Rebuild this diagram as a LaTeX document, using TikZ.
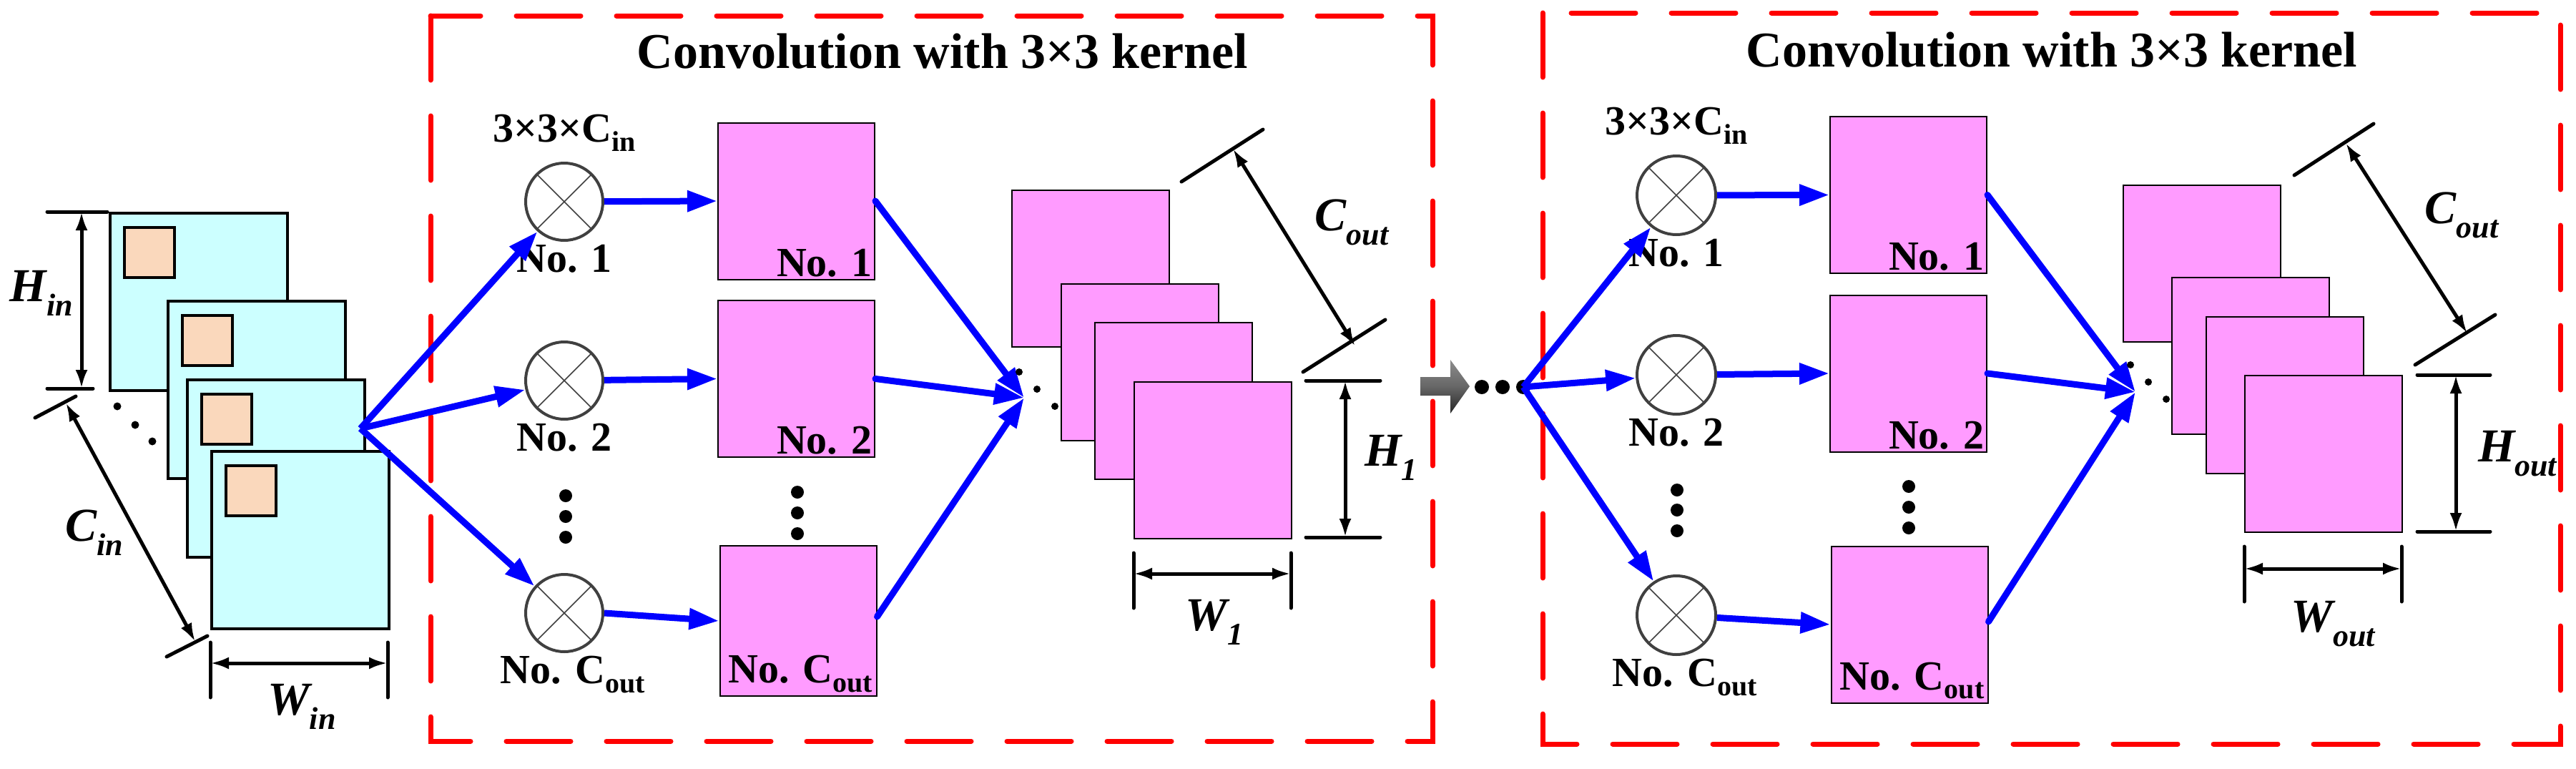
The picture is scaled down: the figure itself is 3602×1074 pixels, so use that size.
\documentclass[tikz,border=0pt]{standalone}
\usepackage{fontspec}
\setmainfont{Liberation Serif}
\usetikzlibrary{arrows.meta,calc}
\definecolor{bluec}{RGB}{0,0,255}
\definecolor{pinkc}{RGB}{255,155,255}
\definecolor{cyanc}{RGB}{204,255,255}
\definecolor{orangec}{RGB}{250,216,188}
\definecolor{redc}{RGB}{255,0,0}
\newcommand{\dimlab}[2]{{\bfseries\itshape #1\raisebox{-0.3em}{\fontsize{44}{44}\selectfont #2}}}
\newcommand{\subt}[1]{\raisebox{-0.22em}{\fontsize{40}{40}\selectfont #1}}
\begin{document}
\begin{tikzpicture}[x=1pt,y=-1pt,
  redbox/.style={draw=redc, line width=7, dash pattern=on 90pt off 50pt, line cap=round},
  barrow/.style={draw=bluec, line width=9, -{Triangle[length=42pt,width=28pt]}},
  dimline/.style={line width=5, line cap=round},
  dimarrow/.style={line width=5, {Latex[length=26pt,width=17pt]}-{Latex[length=26pt,width=17pt]}},
  circ/.style={circle, draw=black!75, line width=4, minimum size=108, inner sep=0, fill=white,
    path picture={\draw[line width=1.5] (path picture bounding box.north west) -- (path picture bounding box.south east)
      (path picture bounding box.north east) -- (path picture bounding box.south west);}},
  pink/.style={draw, line width=2, fill=pinkc, minimum width=219, minimum height=219, inner sep=0},
  cmap/.style={draw, line width=4, fill=cyanc, minimum width=248, minimum height=248, inner sep=0},
  omap/.style={draw, line width=4, fill=orangec, minimum width=70, minimum height=70, inner sep=0},
  txt/.style={font=\fontsize{58}{60}\selectfont\bfseries, inner sep=4},
  ttl/.style={font=\fontsize{70}{72}\selectfont\bfseries},
  dlab/.style={font=\fontsize{66}{68}\selectfont},
  dot/.style={circle, fill, inner sep=0, minimum size=#1},
]
\useasboundingbox (0,0) rectangle (3602,1074);
% ---------- input stack ----------
\foreach \i/\x/\y in {1/152/296, 2/233/419, 3/260/529, 4/294/629}{
  \node[cmap, anchor=north west] (m\i) at (\x,\y) {};
  \node[omap, anchor=north west] (q\i) at ($(m\i.north west)+(20,20)$) {};
}
\node[dot=11] (ld1) at (164,568) {};
\node[dot=11] (ld2) at (189,594) {};
\node[dot=11] (ld3) at (213,617) {};
% Hin
\coordinate (ha1) at (66,296); \coordinate (ha2) at (150,296);
\coordinate (hb1) at (66,543); \coordinate (hb2) at (130,543);
\draw[dimline] (ha1) -- (ha2); \draw[dimline] (hb1) -- (hb2);
\coordinate (hx1) at (114,296); \coordinate (hx2) at (114,543);
\draw[dimarrow] (hx1) -- (hx2);
\node[dlab] (hin) at (58,410) {\dimlab{H}{in}};
% Cin
\coordinate (ca1) at (49,584); \coordinate (ca2) at (106,554);
\coordinate (cb1) at (233,918); \coordinate (cb2) at (290,889);
\draw[dimline] (ca1) -- (ca2); \draw[dimline] (cb1) -- (cb2);
\coordinate (cx1) at (92,563); \coordinate (cx2) at (273,897);
\draw[dimarrow] (cx1) -- (cx2);
\node[dlab] (cin) at (132,745) {\dimlab{C}{in}};
% Win
\coordinate (wa1) at (294,898); \coordinate (wa2) at (294,975);
\coordinate (wb1) at (542,898); \coordinate (wb2) at (542,975);
\draw[dimline] (wa1) -- (wa2); \draw[dimline] (wb1) -- (wb2);
\coordinate (wx1) at (294,927); \coordinate (wx2) at (542,927);
\draw[dimarrow] (wx1) -- (wx2);
\node[dlab] (win) at (422,988) {\dimlab{W}{in}};
% ---------- box 1 ----------
\draw[redbox] (602,22) rectangle (2003,1036);
\node[ttl] (t1) at (1318,72) {Convolution with 3×3 kernel};
\coordinate (o1) at (504,599);
\node[circ] (c11) at (789,282) {};
\node[circ] (c12) at (789,532) {};
\node[circ] (c1c) at (789,857) {};
\node[txt] (k1) at (789,186) {3×3×C\subt{in}};
\node[txt, anchor=north] (n11) at (c11.south) {No. 1};
\node[txt, anchor=north] (n12) at (c12.south) {No. 2};
\node[txt, anchor=north] (n1c) at ([xshift=12]c1c.south) {No. C\subt{out}};
\foreach \j/\y in {a/693, b/722, c/751}{\node[dot=18] (cd1\j) at (791,\y) {};}
\node[pink] (p11) at (1113.5,281) {};
\node[pink] (p12) at (1113.5,529.5) {};
\node[pink, minimum height=210] (p1c) at (1116,868) {};
\node[txt, anchor=south east] (l11) at (p11.south east) {No. 1};
\node[txt, anchor=south east] (l12) at (p12.south east) {No. 2};
\node[txt, anchor=south east, inner sep=6] (l1c) at (p1c.south east) {No. C\subt{out}};
\foreach \j/\y in {a/688, b/717, c/746}{\node[dot=18] (pd1\j) at (1115,\y) {};}
\draw[barrow] (o1) -- (c11);
\draw[barrow] (o1) -- (c12);
\draw[barrow] (o1) -- (c1c);
\draw[barrow] (c11) -- (p11.west);
\draw[barrow] (c12) -- (p12.west);
\draw[barrow] (c1c.east) -- (p1c.west);
\coordinate (v1) at (1432,556);
\draw[barrow, line cap=round] (p11.east) -- (v1);
\draw[barrow, line cap=round] (p12.east) -- (v1);
\draw[barrow, line cap=round] ([yshift=6]p1c.east) -- (v1);
\node[dot=10] (sd1a) at (1425,520) {};
\node[dot=10] (sd1b) at (1450,544) {};
\node[dot=10] (sd1c) at (1475,568) {};
\foreach \i/\x/\y in {1/1414/265, 2/1483/396, 3/1530/450, 4/1585/533}{
  \node[pink, anchor=north west, minimum width=220] (s1\i) at (\x,\y) {};
}
% Cout 1
\coordinate (oa1) at (1652,254); \coordinate (oa2) at (1766,181);
\coordinate (ob1) at (1822,520); \coordinate (ob2) at (1937,447);
\draw[dimline] (oa1) -- (oa2); \draw[dimline] (ob1) -- (ob2);
\coordinate (ox1) at (1724,208); \coordinate (ox2) at (1895,484);
\draw[dimarrow] (ox1) -- (ox2);
\node[dlab] (cout1) at (1890,311) {\dimlab{C}{out}};
% H1
\coordinate (h1a1) at (1826,532); \coordinate (h1a2) at (1930,532);
\coordinate (h1b1) at (1826,751); \coordinate (h1b2) at (1930,751);
\draw[dimline] (h1a1) -- (h1a2); \draw[dimline] (h1b1) -- (h1b2);
\coordinate (h1x1) at (1881,532); \coordinate (h1x2) at (1881,751);
\draw[dimarrow] (h1x1) -- (h1x2);
\node[dlab] (h1) at (1945,640) {\dimlab{H}{1}};
% W1
\coordinate (w1a1) at (1585,773); \coordinate (w1a2) at (1585,850);
\coordinate (w1b1) at (1805,773); \coordinate (w1b2) at (1805,850);
\draw[dimline] (w1a1) -- (w1a2); \draw[dimline] (w1b1) -- (w1b2);
\coordinate (w1x1) at (1585,802); \coordinate (w1x2) at (1805,802);
\draw[dimarrow] (w1x1) -- (w1x2);
\node[dlab] (w1) at (1698,870) {\dimlab{W}{1}};
% ---------- between ----------
\shade[top color=black!45, bottom color=black!85, middle color=black!60]
  (1986,527) -- (2028,527) -- (2028,503) -- (2055,540) -- (2028,578) -- (2028,553) -- (1986,553) -- cycle;
\node[dot=20] (bd1) at (2072,541) {};
\node[dot=20] (bd2) at (2101,541) {};
\node[dot=20] (o2) at (2130,541) {};
% ---------- box 2 ----------
\draw[redbox] (2157,18) rectangle (3580,1040);
\node[ttl] (t2) at (2869,70) {Convolution with 3×3 kernel};
\node[circ, minimum size=110] (c21) at (2344,273) {};
\node[circ, minimum size=110] (c22) at (2344,524) {};
\node[circ, minimum size=110] (c2c) at (2344,860) {};
\node[txt] (k2) at (2344,176) {3×3×C\subt{in}};
\node[txt, anchor=north] (n21) at (c21.south) {No. 1};
\node[txt, anchor=north] (n22) at (c22.south) {No. 2};
\node[txt, anchor=north] (n2c) at ([xshift=12]c2c.south) {No. C\subt{out}};
\foreach \j/\y in {a/685, b/713, c/742}{\node[dot=18] (cd2\j) at (2345,\y) {};}
\node[pink] (p21) at (2668.5,272.5) {};
\node[pink] (p22) at (2668.5,522) {};
\node[pink] (p2c) at (2670,873) {};
\node[txt, anchor=south east] (l21) at (p21.south east) {No. 1};
\node[txt, anchor=south east] (l22) at (p22.south east) {No. 2};
\node[txt, anchor=south east, inner sep=6] (l2c) at (p2c.south east) {No. C\subt{out}};
\foreach \j/\y in {a/680, b/709, c/738}{\node[dot=18] (pd2\j) at (2669,\y) {};}
\draw[barrow] (o2.center) -- (c21);
\draw[barrow] (o2.center) -- (c22);
\draw[barrow] (o2.center) -- (c2c);
\draw[barrow] (c21) -- (p21.west);
\draw[barrow] (c22) -- (p22.west);
\draw[barrow] (c2c) -- (p2c.west);
\coordinate (v2) at (2986,548);
\draw[barrow, line cap=round] (p21.east) -- (v2);
\draw[barrow, line cap=round] (p22.east) -- (v2);
\draw[barrow, line cap=round] ([yshift=4]p2c.east) -- (v2);
\node[dot=10] (sd2a) at (2979,510) {};
\node[dot=10] (sd2b) at (3004,534) {};
\node[dot=10] (sd2c) at (3029,558) {};
\foreach \i/\x/\y in {1/2968/258, 2/3036/387, 3/3084/442, 4/3138/524}{
  \node[pink, anchor=north west, minimum width=220] (s2\i) at (\x,\y) {};
}
% Cout 2
\coordinate (qa1) at (3208,245); \coordinate (qa2) at (3319,173);
\coordinate (qb1) at (3377,510); \coordinate (qb2) at (3489,440);
\draw[dimline] (qa1) -- (qa2); \draw[dimline] (qb1) -- (qb2);
\coordinate (qx1) at (3280,200); \coordinate (qx2) at (3450,466);
\draw[dimarrow] (qx1) -- (qx2);
\node[dlab] (cout2) at (3442,301) {\dimlab{C}{out}};
% Hout
\coordinate (hoa1) at (3380,524); \coordinate (hoa2) at (3482,524);
\coordinate (hob1) at (3380,743); \coordinate (hob2) at (3482,743);
\draw[dimline] (hoa1) -- (hoa2); \draw[dimline] (hob1) -- (hob2);
\coordinate (hox1) at (3434,524); \coordinate (hox2) at (3434,743);
\draw[dimarrow] (hox1) -- (hox2);
\node[dlab] (hout) at (3520,634) {\dimlab{H}{out}};
% Wout
\coordinate (woa1) at (3138,764); \coordinate (woa2) at (3138,841);
\coordinate (wob1) at (3358,764); \coordinate (wob2) at (3358,841);
\draw[dimline] (woa1) -- (woa2); \draw[dimline] (wob1) -- (wob2);
\coordinate (wox1) at (3138,795); \coordinate (wox2) at (3358,795);
\draw[dimarrow] (wox1) -- (wox2);
\node[dlab] (wout) at (3262,872) {\dimlab{W}{out}};
\end{tikzpicture}
\end{document}
